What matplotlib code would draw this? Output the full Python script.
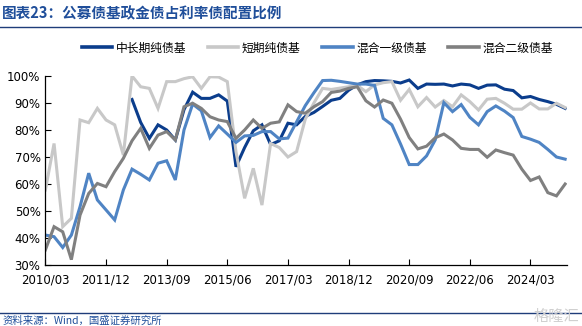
import numpy as np
import pandas as pd
import matplotlib.pyplot as plt
from matplotlib.lines import Line2D

plt.rcParams['font.family'] = ['DejaVu Sans', 'Noto Sans CJK SC']

# --- dados (trimestrais, 2010/03 a 2025/03) ---
quarters = pd.date_range('2010-03-31', '2025-03-31', freq='QE').strftime('%Y/%m').tolist()
tick_labels = ['2010/03', '2011/12', '2013/09', '2015/06', '2017/03',
               '2018/12', '2020/09', '2022/06', '2024/03']

nan = np.nan
zhongchang = [nan] * 10 + [
    91.3, 82.8, 76.9, 81.9, 80.0, 76.3, 87.5, 94.0, 91.7, 91.7,
    93.0, 90.7, 66.4, 73.5, 79.7, 81.9, 74.6, 76.0, 82.5, 81.9,
    85.0, 86.5, 88.7, 91.0, 91.7, 94.7, 96.7, 97.9, 98.3, 98.2,
    98.0, 97.4, 98.5, 95.4, 97.0, 96.9, 97.0, 96.3, 97.0, 96.7,
    95.4, 96.6, 96.7, 95.1, 94.6, 91.9, 92.4, 91.3, 90.5, 89.5, 88.0]
duanqi = [
    57.8, 75.0, 44.2, 47.3, 83.7, 82.7, 88.0, 83.7, 81.9, 70.7,
    100.0, 96.0, 95.4, 88.0, 97.9, 97.9, 99.0, 99.7, 95.4, 99.7,
    99.6, 97.9, 72.0, 54.7, 65.8, 52.2, 75.0, 73.5, 70.0, 72.0,
    84.0, 90.0, 95.4, 95.0, 95.5, 96.0, 96.5, 94.2, 96.7, 97.5,
    97.9, 91.0, 95.0, 88.6, 92.0, 88.5, 90.9, 88.6, 93.0, 90.5,
    87.4, 91.4, 91.7, 89.9, 87.7, 87.7, 90.0, 87.8, 87.8, 89.9, 88.3]
hunhe1 = [
    41.1, 40.5, 36.5, 41.1, 51.6, 64.0, 54.1, 50.4, 46.7, 57.8,
    65.5, 63.6, 61.5, 67.7, 68.6, 61.5, 80.0, 89.6, 87.1, 77.2,
    81.5, 78.5, 75.4, 77.8, 78.0, 79.4, 79.4, 76.7, 77.0, 83.0,
    89.0, 93.8, 98.3, 98.4, 98.0, 97.5, 97.0, 97.0, 96.5, 84.3,
    81.9, 74.8, 67.2, 67.2, 70.4, 76.3, 90.1, 86.8, 89.4, 84.7,
    81.9, 86.8, 88.9, 87.0, 84.6, 77.6, 76.6, 75.4, 72.8, 70.0, 69.2]
hunhe2 = [
    35.6, 44.2, 42.3, 32.0, 48.5, 56.5, 60.2, 59.0, 64.6, 69.5,
    76.0, 80.6, 73.2, 78.1, 79.4, 76.3, 88.6, 89.9, 88.0, 84.9,
    83.7, 83.1, 76.9, 80.0, 83.7, 80.6, 82.5, 83.0, 89.3, 86.8,
    86.2, 88.6, 90.5, 93.9, 94.4, 95.4, 96.0, 90.8, 88.5, 91.1,
    89.9, 84.0, 77.2, 73.0, 74.0, 77.1, 78.5, 76.3, 73.2, 72.8,
    72.8, 69.9, 72.6, 71.6, 70.7, 65.5, 61.3, 62.6, 56.8, 55.6, 60.0]

nomes = ['中长期纯债基', '短期纯债基', '混合一级债基', '混合二级债基']
cores = ['#0B3D8C', '#C8C8C8', '#4F84C4', '#808080']
series = [zhongchang, duanqi, hunhe1, hunhe2]

azul_titulo = '#1F4E9A'
cjk = ['Noto Sans CJK SC', 'DejaVu Sans']

# --- grafico ---
fig = plt.figure(figsize=(5.82, 3.26), dpi=100)
ax = fig.add_axes([0.078, 0.187, 0.896, 0.580])

x = np.arange(len(quarters))
for vals, nome, cor in zip(series, nomes, cores):
    ax.plot(x, vals, color=cor, lw=2.2, label=nome, solid_joinstyle='miter')

ax.set_xlim(0, 60.2)
ax.set_ylim(30, 100)
ax.set_yticks(np.arange(30, 101, 10))
ax.set_yticklabels([f'{v}%' for v in range(30, 101, 10)])
ax.set_xticks([quarters.index(t) for t in tick_labels])
ax.set_xticklabels(tick_labels)
ax.tick_params(direction='in', length=4, width=0.8, labelsize=8.5, colors='black')
ax.tick_params(axis='x', pad=6)
for s in ['top', 'right']:
    ax.spines[s].set_visible(False)
for s in ['left', 'bottom']:
    ax.spines[s].set_linewidth(0.9)

# legenda
handles = [Line2D([0], [0], color=c, lw=2.6) for c in cores]
fig.legend(handles, nomes, loc='center', bbox_to_anchor=(0.545, 1 - 48 / 326),
           ncol=4, frameon=False, handlelength=2.6, handletextpad=0.3,
           columnspacing=1.8, prop={'family': cjk, 'size': 8.5})

# titulo e rodape
fig.text(0.004, 1 - 13 / 326, '图表23：公募债基政金债占利率债配置比例', family=cjk,
         fontsize=10.5, color=azul_titulo, fontweight='bold', style='italic', va='center')
fig.add_artist(Line2D([0, 1], [1 - 27 / 326, 1 - 27 / 326], color='#1F3D7A', lw=1.0))
fig.add_artist(Line2D([0, 1], [1 - 313 / 326, 1 - 313 / 326], color='#1F3D7A', lw=1.0))
fig.text(0.004, 1 - 321 / 326, '资料来源：Wind，国盛证券研究所', family=cjk,
         fontsize=7.5, color=azul_titulo, style='italic', va='center')
fig.text(0.995, 1 - 316 / 326, '格隆汇', family=cjk, fontsize=11, color='#D0D0D0',
         ha='right', va='center')

fig.savefig('out.png', dpi=100)
